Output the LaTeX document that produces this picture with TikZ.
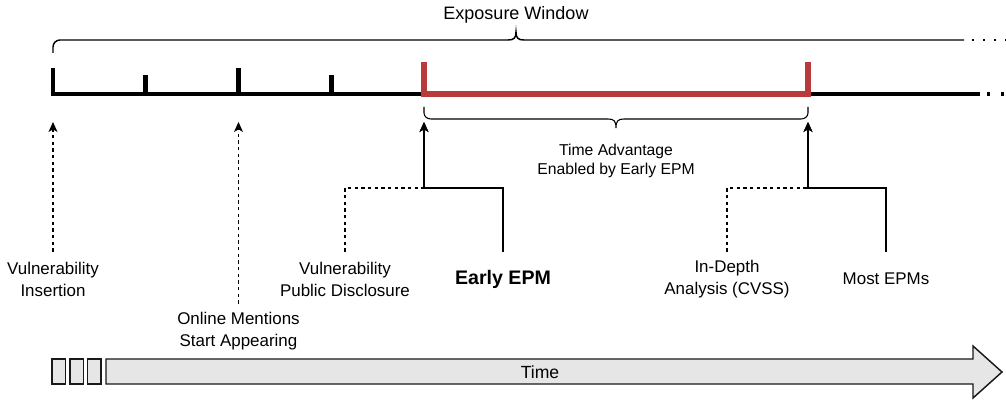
\documentclass[tikz,border=0pt]{standalone}
\usepackage{fontspec}
\setmainfont{Liberation Sans}
\usetikzlibrary{arrows.meta}

\definecolor{epmred}{RGB}{184,58,58}
\definecolor{timegray}{RGB}{230,230,230}

\tikzset{
  tline/.style={line width=3.3pt, line cap=butt},
  redline/.style={line width=4.6pt, epmred, line join=miter},
  brace/.style={line width=1.1pt},
  conn/.style={line width=0.8pt, -{Stealth[length=7.5pt,width=6.75pt,inset=2pt]}},
  dconn/.style={conn, dash pattern=on 2.5pt off 2.5pt},
  boldconn/.style={conn, line width=2.1pt},
  lbl/.style={align=center, font=\fontsize{12.7}{16.5}\selectfont, inner ysep=6pt, minimum height=40.5pt},
  tbox/.style={fill=timegray, draw=black!90, line width=1.1pt, line join=miter},
}

\begin{document}
\begin{tikzpicture}[x=0.75pt,y=-0.75pt]
  \useasboundingbox (0,0) rectangle (1006,402);

  % exposure window
  \node[font=\fontsize{13.5}{16}\selectfont] (expo) at (516,15) {Exposure Window};
  \draw[brace] (53,53) -- (53,47) to[out=90,in=180] (60,40) -- (508,40)
    .. controls (514,40) and (516,38) .. (516,32)
    .. controls (516,38) and (518,40) .. (524,40) -- (964,40);
  \draw[brace, dash pattern=on 1.5pt off 6.75pt] (972,40) -- (1006,40);

  % timeline
  \draw[tline] (50.5,94) -- (424,94);
  \foreach \x/\t in {53/68, 145.5/75, 238.5/68, 331.5/75}
    \draw[tline] (\x,\t) -- (\x,94);
  \draw[tline] (808,94) -- (980,94);
  \draw[tline, dash pattern=on 2.5pt off 8pt] (987,94) -- (1006,94);
  \draw[redline] (424,62) -- (424,94) -- (808,94) -- (808,62);

  % time advantage
  \draw[line width=0.8pt] (424,107) -- (424,113) to[out=-90,in=180] (431,119) -- (608,119)
    .. controls (614,119) and (616,121) .. (616,128)
    .. controls (616,121) and (618,119) .. (624,119) -- (801,119)
    to[out=0,in=-90] (808,113) -- (808,107);
  \node[font=\fontsize{11.8}{14.25}\selectfont, align=center] (adv) at (616,161) {Time Advantage\\Enabled by Early EPM};

  \coordinate (a0) at (53,122);
  \coordinate (a1) at (238.5,122);
  \coordinate (a2) at (424,122);
  \coordinate (a3) at (808,122);
  \coordinate (j2) at (424,188);
  \coordinate (j3) at (808,188);

  % events
  \node[lbl] (ins)  at (53,279)    {Vulnerability\\Insertion};
  \node[lbl] (ment) at (238.5,331) {Online Mentions\\Start Appearing};
  \node[lbl] (pub)  at (345,279)   {Vulnerability\\Public Disclosure};
  \node[lbl, font=\fontsize{14.7}{17}\selectfont\bfseries] (early) at (503,279) {Early EPM};
  \node[lbl] (cvss) at (727,279)   {In-Depth\\Analysis (CVSS)};
  \node[lbl] (most) at (886,279)   {Most EPMs};

  \draw[dconn] (ins) -- (a0);
  \draw[dconn] (ment) -- (a1);
  \draw[dconn] (pub.north) |- (j2) -- (a2);
  \draw[boldconn] (early.north) |- (j2) -- (a2);
  \draw[dconn] (cvss.north) |- (j3) -- (a3);
  \draw[conn] (most.north) |- (j3) -- (a3);

  % time arrow
  \foreach \x in {52,70,87.5}
    \draw[tbox] (\x,359) rectangle ++(13.5,25);
  \draw[tbox] (106,359) -- (973,359) -- (973,346) -- (1002,372) -- (973,398)
    -- (973,384) -- (106,384) -- cycle;
  \node[font=\fontsize{13.2}{16}\selectfont] (time) at (540,372) {Time};
\end{tikzpicture}
\end{document}
